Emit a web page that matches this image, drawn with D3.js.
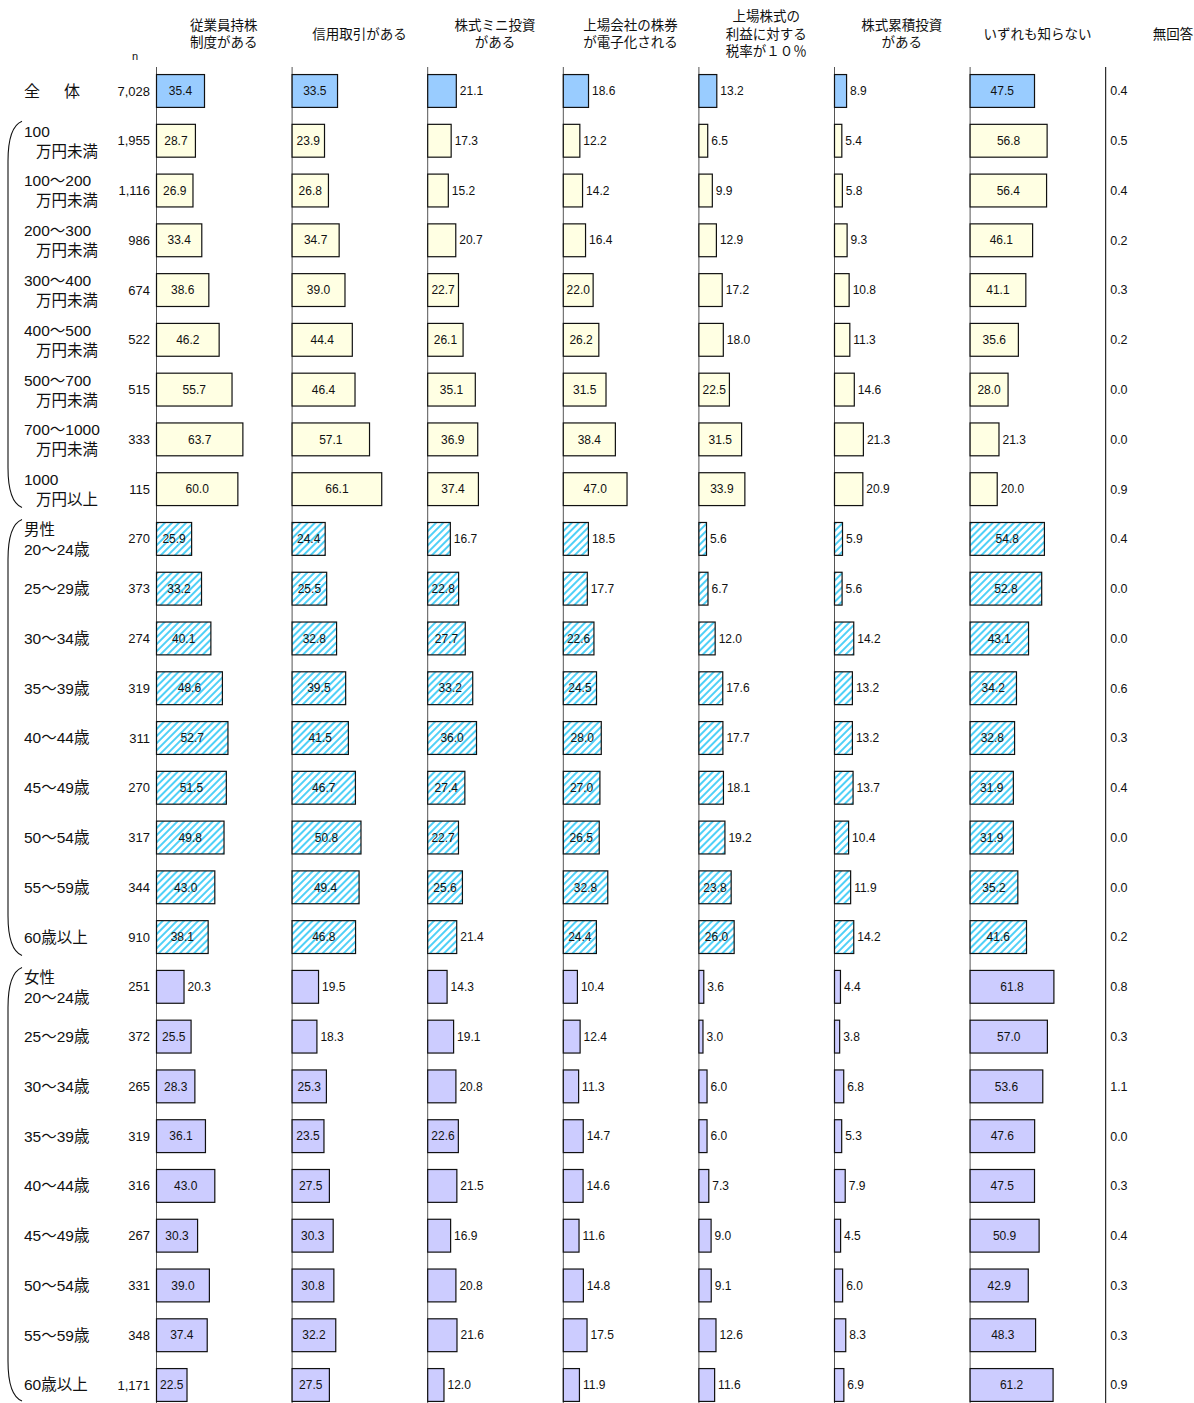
<!DOCTYPE html>
<html>
<head>
<meta charset="utf-8">
<script src="https://cdn.jsdelivr.net/npm/d3@7"></script>
<style>
  body { margin: 0; background: #fff; }
  svg text { font-family: "Liberation Sans", Arial, "Noto Sans CJK JP", sans-serif; fill: #111; }
  .jp { font-family: "Noto Sans CJK JP", "Liberation Sans", sans-serif; }
</style>
</head>
<body>
<svg id="chart" width="1194" height="1403"></svg>
<script>
// Data

const headers = [
  ['従業員持株', '制度がある'],
  ['信用取引がある'],
  ['株式ミニ投資', 'がある'],
  ['上場会社の株券', 'が電子化される'],
  ['上場株式の', '利益に対する', '税率が１０％'],
  ['株式累積投資', 'がある'],
  ['いずれも知らない'],
  ['無回答']
]

const rowLabels = [
  ['全　体'],
  ['100', '万円未満'],
  ['100～200', '万円未満'],
  ['200～300', '万円未満'],
  ['300～400', '万円未満'],
  ['400～500', '万円未満'],
  ['500～700', '万円未満'],
  ['700～1000', '万円未満'],
  ['1000', '万円以上'],
  ['男性', '20～24歳'],
  ['25～29歳'], ['30～34歳'], ['35～39歳'], ['40～44歳'],
  ['45～49歳'], ['50～54歳'], ['55～59歳'], ['60歳以上'],
  ['女性', '20～24歳'],
  ['25～29歳'], ['30～34歳'], ['35～39歳'], ['40～44歳'],
  ['45～49歳'], ['50～54歳'], ['55～59歳'], ['60歳以上']
]

const nValues = ['7,028', '1,955', '1,116', '986', '674', '522', '515', '333', '115',
  '270', '373', '274', '319', '311', '270', '317', '344', '910',
  '251', '372', '265', '319', '316', '267', '331', '348', '1,171']

// row group of each row: total / income / male / female
const rowGroups = ['total',
  'income', 'income', 'income', 'income', 'income', 'income', 'income', 'income',
  'male', 'male', 'male', 'male', 'male', 'male', 'male', 'male', 'male',
  'female', 'female', 'female', 'female', 'female', 'female', 'female', 'female', 'female']

const employeeStock = [35.4, 28.7, 26.9, 33.4, 38.6, 46.2, 55.7, 63.7, 60.0,
  25.9, 33.2, 40.1, 48.6, 52.7, 51.5, 49.8, 43.0, 38.1,
  20.3, 25.5, 28.3, 36.1, 43.0, 30.3, 39.0, 37.4, 22.5]
const marginTrading = [33.5, 23.9, 26.8, 34.7, 39.0, 44.4, 46.4, 57.1, 66.1,
  24.4, 25.5, 32.8, 39.5, 41.5, 46.7, 50.8, 49.4, 46.8,
  19.5, 18.3, 25.3, 23.5, 27.5, 30.3, 30.8, 32.2, 27.5]
const miniInvest = [21.1, 17.3, 15.2, 20.7, 22.7, 26.1, 35.1, 36.9, 37.4,
  16.7, 22.8, 27.7, 33.2, 36.0, 27.4, 22.7, 25.6, 21.4,
  14.3, 19.1, 20.8, 22.6, 21.5, 16.9, 20.8, 21.6, 12.0]
const paperless = [18.6, 12.2, 14.2, 16.4, 22.0, 26.2, 31.5, 38.4, 47.0,
  18.5, 17.7, 22.6, 24.5, 28.0, 27.0, 26.5, 32.8, 24.4,
  10.4, 12.4, 11.3, 14.7, 14.6, 11.6, 14.8, 17.5, 11.9]
const taxRate = [13.2, 6.5, 9.9, 12.9, 17.2, 18.0, 22.5, 31.5, 33.9,
  5.6, 6.7, 12.0, 17.6, 17.7, 18.1, 19.2, 23.8, 26.0,
  3.6, 3.0, 6.0, 6.0, 7.3, 9.0, 9.1, 12.6, 11.6]
const cumulative = [8.9, 5.4, 5.8, 9.3, 10.8, 11.3, 14.6, 21.3, 20.9,
  5.9, 5.6, 14.2, 13.2, 13.2, 13.7, 10.4, 11.9, 14.2,
  4.4, 3.8, 6.8, 5.3, 7.9, 4.5, 6.0, 8.3, 6.9]
const noneKnown = [47.5, 56.8, 56.4, 46.1, 41.1, 35.6, 28.0, 21.3, 20.0,
  54.8, 52.8, 43.1, 34.2, 32.8, 31.9, 31.9, 35.2, 41.6,
  61.8, 57.0, 53.6, 47.6, 47.5, 50.9, 42.9, 48.3, 61.2]
const noAnswer = [0.4, 0.5, 0.4, 0.2, 0.3, 0.2, 0.0, 0.0, 0.9,
  0.4, 0.0, 0.0, 0.6, 0.3, 0.4, 0.0, 0.0, 0.2,
  0.8, 0.3, 1.1, 0.0, 0.3, 0.4, 0.3, 0.3, 0.9]

const barSeries = [employeeStock, marginTrading, miniInvest, paperless, taxRate, cumulative, noneKnown]

// Layout

const svg = d3.select('#chart')

const colX = d3.scaleBand()
  .domain(d3.range(headers.length))
  .range([156, 156 + 135.6 * headers.length])

const rowY = d3.scaleBand()
  .domain(d3.range(rowLabels.length))
  .range([66.1, 66.1 + 49.77 * rowLabels.length])
  .paddingInner(0.34)
  .paddingOuter(0.17)

const x = d3.scaleLinear()
  .domain([0, 100])
  .range([0, colX.bandwidth()])

const fills = {
  total: '#99ccff',
  income: '#ffffe3',
  male: 'url(#hatch)',
  female: '#ccccff'
}

// Hatch for male rows
const defs = svg.append('defs')
const pat = defs.append('pattern')
    .attr('id', 'hatch')
    .attr('patternUnits', 'userSpaceOnUse')
    .attr('width', 5)
    .attr('height', 5)
    .attr('patternTransform', 'rotate(45)')
pat.append('rect')
  .attr('width', 5).attr('height', 5)
  .attr('fill', '#fff')
pat.append('rect')
  .attr('width', 2).attr('height', 5)
  .attr('fill', '#4fd0f7')

// Column headers
headers.forEach((lines, c) => {
  let cx = colX(c) + colX.bandwidth() / 2
  let y0 = 34 - (lines.length - 1) * 8.7
  let t = svg.append('text')
      .attr('class', 'jp')
      .attr('text-anchor', 'middle')
      .style('font-size', '13.5px')
  lines.forEach((s, i) => {
    t.append('tspan')
      .attr('x', cx)
      .attr('y', y0 + i * 17.4)
      .attr('dy', '0.35em')
      .text(s)
  })
})

svg.append('text')
  .attr('x', 135)
  .attr('y', 60)
  .attr('text-anchor', 'middle')
  .style('font-size', '11px')
  .text('n')

// Axis lines
const yTop = 67
const yBot = 1403
headers.forEach((h, c) => {
  svg.append('line')
    .attr('x1', colX(c) + 0.5).attr('x2', colX(c) + 0.5)
    .attr('y1', yTop).attr('y2', yBot)
    .attr('stroke', c === headers.length - 1 ? '#000' : '#555')
    .attr('stroke-width', 1)
})

// Row labels and n
rowLabels.forEach((lines, r) => {
  let cy = rowY(r) + rowY.bandwidth() / 2
  let t = svg.append('text')
      .style('font-size', '15.5px')
  if (r === 0) t.style('letter-spacing', '4px').style('font-size', '16px')
  lines.forEach((s, i) => {
    let dy = lines.length === 1 ? 0 : (i === 0 ? -9.5 : 10.5)
    t.append('tspan')
      .attr('x', s.startsWith('万円') ? 36 : 24)
      .attr('y', cy + dy)
      .attr('dy', '0.35em')
      .text(s)
  })
  svg.append('text')
    .attr('x', 150)
    .attr('y', cy)
    .attr('dy', '0.35em')
    .attr('text-anchor', 'end')
    .style('font-size', '13px')
    .text(nValues[r])
})

// Group brackets
const groupSpans = d3.groups(d3.range(rowLabels.length), r => rowGroups[r])
  .filter(g => g[0] !== 'total')
groupSpans.forEach(([name, rows]) => {
  let top = rowY(rows[0]) - 3
  let bot = rowY(rows[rows.length - 1]) + rowY.bandwidth() + 2
  if (bot > 1401) bot = 1401
  svg.append('path')
    .attr('d', `M22,${top} C12,${top + 4} 8,${top + 18} 8,${top + 40} L8,${bot - 40} C8,${bot - 18} 12,${bot - 4} 22,${bot}`)
    .attr('fill', 'none')
    .attr('stroke', '#111')
    .attr('stroke-width', 1.1)
})

// Bars
barSeries.forEach((vals, c) => {
  let g = svg.append('g')
      .attr('transform', 'translate(' + colX(c) + ',0)')

  g.selectAll('rect')
    .data(vals)
    .join('rect')
      .attr('x', 0.5)
      .attr('y', (d, r) => rowY(r))
      .attr('width', d => x(d))
      .attr('height', rowY.bandwidth())
      .attr('fill', (d, r) => fills[rowGroups[r]])
      .attr('stroke', '#111')
      .attr('stroke-width', 1.2)

  g.selectAll('text')
    .data(vals)
    .join('text')
      .attr('x', d => d >= 22 ? x(d) / 2 + 0.5 : x(d) + 4)
      .attr('y', (d, r) => rowY(r) + rowY.bandwidth() / 2)
      .attr('dy', '0.35em')
      .attr('text-anchor', d => d >= 22 ? 'middle' : 'start')
      .style('font-size', '12px')
      .text(d => d.toFixed(1))
})

// No answer column
svg.append('g')
  .selectAll('text')
  .data(noAnswer)
  .join('text')
    .attr('x', colX(headers.length - 1) + 5)
    .attr('y', (d, r) => rowY(r) + rowY.bandwidth() / 2)
    .attr('dy', '0.35em')
    .style('font-size', '12.5px')
    .text(d => d.toFixed(1))
</script>
</body>
</html>
